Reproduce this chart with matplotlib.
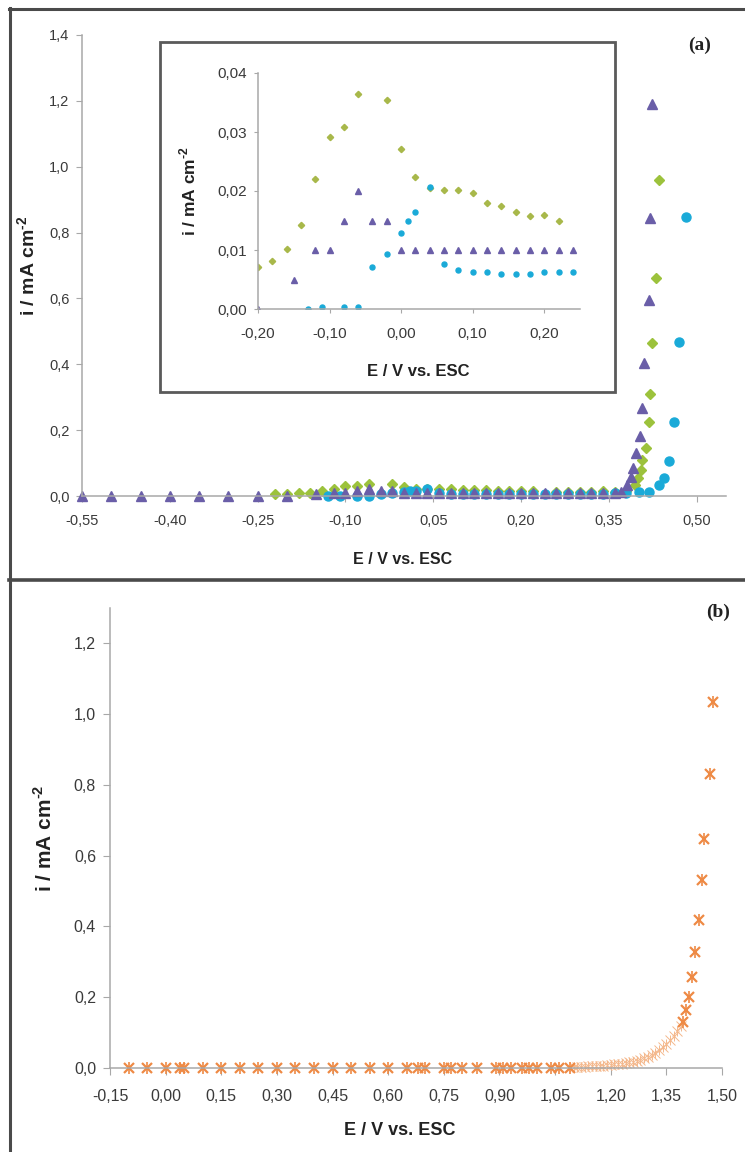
import matplotlib
matplotlib.use("Agg")
import matplotlib.pyplot as plt
from matplotlib.lines import Line2D
from matplotlib.patches import Rectangle

plt.rcParams['font.family'] = ['Liberation Sans', 'DejaVu Sans']
plt.rcParams['mathtext.fontset'] = 'custom'
plt.rcParams['mathtext.rm'] = 'Liberation Sans:bold'
plt.rcParams['mathtext.bf'] = 'Liberation Sans:bold'

# ---- panel (a) : three series ----
tri_E = [-0.55, -0.50, -0.45, -0.40, -0.35, -0.30, -0.25, -0.20, -0.15, -0.12, -0.10, -0.08, -0.06, -0.04, -0.02,
         0.00, 0.02, 0.04, 0.06, 0.08, 0.10, 0.12, 0.14, 0.16, 0.18, 0.20, 0.22, 0.24, 0.26, 0.28, 0.30, 0.32,
         0.34, 0.36, 0.37,
         0.381, 0.387, 0.391, 0.397, 0.403, 0.407, 0.410, 0.418, 0.420, 0.424]
tri_i = [0, 0, 0, 0, 0, 0, 0, 0, 0.005, 0.010, 0.010, 0.015, 0.020, 0.015, 0.015,
         0.010, 0.010, 0.010, 0.010, 0.010, 0.010, 0.010, 0.010, 0.010, 0.010, 0.010, 0.010, 0.010, 0.010,
         0.010, 0.010, 0.010, 0.010, 0.010, 0.012,
         0.033, 0.059, 0.084, 0.130, 0.182, 0.266, 0.405, 0.595, 0.845, 1.19]

dia_E = [-0.22, -0.20, -0.18, -0.16, -0.14, -0.12, -0.10, -0.08, -0.06, -0.02, 0.00, 0.02, 0.04, 0.06, 0.08,
         0.10, 0.12, 0.14, 0.16, 0.18, 0.20, 0.22,
         0.26, 0.28, 0.30, 0.32, 0.34, 0.36, 0.38,
         0.395, 0.400, 0.404, 0.407, 0.413, 0.418, 0.420, 0.424, 0.431, 0.435]
dia_i = [0.005, 0.0072, 0.0081, 0.0102, 0.0142, 0.0220, 0.0292, 0.0308, 0.0364, 0.0355, 0.0271, 0.0224, 0.0205,
         0.0201, 0.0201, 0.0196, 0.0180, 0.0175, 0.0165, 0.0158, 0.0159, 0.0149,
         0.011, 0.011, 0.011, 0.011, 0.014, 0.012, 0.016,
         0.033, 0.054, 0.079, 0.109, 0.147, 0.226, 0.309, 0.464, 0.663, 0.96]

cir_E = [-0.13, -0.11, -0.08, -0.06, -0.04, -0.02, 0.00, 0.01, 0.02, 0.04, 0.06, 0.08, 0.10, 0.12, 0.14, 0.16,
         0.18, 0.20, 0.22, 0.24,
         0.26, 0.28, 0.30, 0.32, 0.34, 0.36, 0.38,
         0.401, 0.418, 0.435, 0.444, 0.452, 0.462, 0.470, 0.481]
cir_i = [0.0, 0.0004, 0.0004, 0.0004, 0.0072, 0.0093, 0.0128, 0.0149, 0.0165, 0.0206, 0.0077, 0.0066, 0.0062,
         0.0062, 0.0060, 0.0060, 0.0060, 0.0062, 0.0062, 0.0062,
         0.006, 0.006, 0.006, 0.006, 0.007, 0.008, 0.010,
         0.012, 0.013, 0.033, 0.056, 0.106, 0.224, 0.469, 0.848]

a_xticks = [-0.55, -0.40, -0.25, -0.10, 0.05, 0.20, 0.35, 0.50]
a_yticks = [0.0, 0.2, 0.4, 0.6, 0.8, 1.0, 1.2, 1.4]
ins_xticks = [-0.20, -0.10, 0.00, 0.10, 0.20]
ins_yticks = [0.00, 0.01, 0.02, 0.03, 0.04]

# ---- panel (b) ----
b_E = [-0.10, -0.05, 0.00, 0.04, 0.05, 0.10, 0.15, 0.20, 0.25, 0.30, 0.35, 0.40, 0.45, 0.50, 0.55, 0.60,
       0.65, 0.68, 0.70, 0.75, 0.77, 0.80, 0.84, 0.89, 0.91, 0.93, 0.96, 0.98, 1.00, 1.04, 1.06, 1.09,
       1.395, 1.403, 1.410, 1.418, 1.426, 1.437, 1.445, 1.452, 1.467, 1.476]
b_i = [0.001] * 32 + [0.130, 0.165, 0.200, 0.257, 0.328, 0.418, 0.531, 0.648, 0.830, 1.035]
# dense part of the scan (small faint markers)
bd_E = [1.10, 1.11, 1.12, 1.13, 1.14, 1.15, 1.16, 1.17, 1.18, 1.19, 1.20, 1.21, 1.22, 1.23, 1.24, 1.25,
        1.26, 1.27, 1.28, 1.29, 1.30, 1.31, 1.32, 1.33, 1.34, 1.35, 1.36, 1.37, 1.38, 1.39]
bd_i = [0.003, 0.003, 0.004, 0.004, 0.005, 0.005, 0.006, 0.006, 0.007, 0.008, 0.009, 0.010, 0.011, 0.012,
        0.014, 0.016, 0.018, 0.021, 0.024, 0.028, 0.032, 0.037, 0.043, 0.050, 0.058, 0.067, 0.078, 0.090,
        0.104, 0.118]
b_xticks = [-0.15, 0.00, 0.15, 0.30, 0.45, 0.60, 0.75, 0.90, 1.05, 1.20, 1.35, 1.50]
b_yticks = [0.0, 0.2, 0.4, 0.6, 0.8, 1.0, 1.2]

PURPLE = '#6A5EA8'
GREEN = '#9CC23C'
CYAN = '#1AAAD8'
ORANGE = '#EE8A45'
AXCOL = '#A8A8A8'
TXT = '#3A3A3A'
YLAB = 'i / mA cm$^{\\text{-2}}$'


def comma(vals, fmt):
    return [fmt.format(v).replace('.', ',') for v in vals]


def style(ax, fs, pad_x, pad_y, tl=4):
    for s in ['top', 'right']:
        ax.spines[s].set_visible(False)
    for s in ['left', 'bottom']:
        ax.spines[s].set_color(AXCOL)
        ax.spines[s].set_linewidth(1.1)
    ax.tick_params(axis='x', direction='out', length=tl, color=AXCOL, labelsize=fs, labelcolor=TXT, pad=pad_x)
    ax.tick_params(axis='y', direction='out', length=tl, color=AXCOL, labelsize=fs, labelcolor=TXT, pad=pad_y)
    ax.set_facecolor('none')


W, H = 745, 1152
fig = plt.figure(figsize=(W / 100, H / 100), dpi=100)


def fx(px):
    return px / W


def fy(py):
    return 1 - py / H


# panel frame lines
fig.add_artist(Line2D([fx(10), fx(10)], [0, fy(8)], color='#4a4a4a', lw=2.2))
fig.add_artist(Line2D([fx(9), 1], [fy(9), fy(9)], color='#4a4a4a', lw=2.2))
fig.add_artist(Line2D([fx(9), 1], [fy(580), fy(580)], color='#4a4a4a', lw=2.6))

# ---------- (a) main ----------
ax = fig.add_axes([fx(82), fy(496), fx(726) - fx(82), fy(35) - fy(496)])
ax.set_zorder(1)
ax.plot(dia_E, dia_i, ls='none', marker='D', ms=5.5, color=GREEN, mec=GREEN, clip_on=False)
ax.plot(cir_E, cir_i, ls='none', marker='o', ms=6.5, color=CYAN, mec=CYAN, clip_on=False)
ax.plot(tri_E, tri_i, ls='none', marker='^', ms=7.5, color=PURPLE, mec=PURPLE, clip_on=False)
ax.set_xlim(-0.55, 0.55)
ax.set_ylim(0, 1.4)
ax.set_xticks(a_xticks)
ax.set_xticklabels(comma(a_xticks, '{:.2f}'))
ax.set_yticks(a_yticks)
ax.set_yticklabels(comma(a_yticks, '{:.1f}'))
style(ax, 10.5, 9, 5)
ax.set_xlabel('E / V vs. ESC', fontsize=11.5, fontweight='bold', color='#222222')
ax.xaxis.set_label_coords(0.497, -0.122)
ax.set_ylabel(YLAB, fontsize=14, fontweight='bold', color='#222222')
ax.yaxis.set_label_coords(-0.066, 0.5)
fig.text(fx(700), fy(45), '(a)', family='Liberation Serif', fontsize=14, fontweight='bold',
         ha='center', va='center', color='#222222')

# ---------- inset ----------
box = Rectangle((fx(160), fy(392)), fx(615) - fx(160), fy(42) - fy(392), transform=fig.transFigure,
                facecolor='white', edgecolor='#5a5a5a', lw=2.0, zorder=2)
fig.add_artist(box)
axi = fig.add_axes([fx(258), fy(309), fx(580) - fx(258), fy(73) - fy(309)])
axi.set_zorder(3)
axi.plot(dia_E, dia_i, ls='none', marker='D', ms=3.2, color='#A8B84A', mec='#A8B84A')
axi.plot(tri_E, tri_i, ls='none', marker='^', ms=4.2, color=PURPLE, mec=PURPLE)
axi.plot(cir_E, cir_i, ls='none', marker='o', ms=3.6, color=CYAN, mec=CYAN)
axi.set_xlim(-0.20, 0.25)
axi.set_ylim(0, 0.04)
axi.set_xticks(ins_xticks)
axi.set_xticklabels(comma(ins_xticks, '{:.2f}'))
axi.set_yticks(ins_yticks)
axi.set_yticklabels(comma(ins_yticks, '{:.2f}'))
style(axi, 11, 10, 5, tl=3)
axi.set_xlabel('E / V vs. ESC', fontsize=12, fontweight='bold', color='#222222')
axi.xaxis.set_label_coords(0.497, -0.232)
axi.set_ylabel(YLAB, fontsize=12.5, fontweight='bold', color='#222222')
axi.yaxis.set_label_coords(-0.185, 0.5)

# ---------- (b) ----------
bx = fig.add_axes([fx(110), fy(1068), fx(722) - fx(110), fy(608) - fy(1068)])
bx.plot(bd_E, bd_i, ls='none', marker='x', ms=7, mew=0.7, color='#F4B88C', clip_on=False)
bx.plot(bd_E, bd_i, ls='none', marker='|', ms=7, mew=0.7, color='#F4B88C', clip_on=False)
bx.plot(b_E, b_i, ls='none', marker='x', ms=7.5, mew=1.6, color=ORANGE, clip_on=False)
bx.plot(b_E, b_i, ls='none', marker='|', ms=8, mew=1.2, color=ORANGE, clip_on=False)
bx.set_xlim(-0.15, 1.50)
bx.set_ylim(0, 1.3)
bx.set_xticks(b_xticks)
bx.set_xticklabels(comma(b_xticks, '{:.2f}'))
bx.set_yticks(b_yticks)
bx.set_yticklabels(comma(b_yticks, '{:.1f}'))
style(bx, 11.5, 10, 5, tl=5)
bx.set_xlabel('E / V vs. ESC', fontsize=13, fontweight='bold', color='#222222')
bx.xaxis.set_label_coords(0.474, -0.118)
bx.set_ylabel(YLAB, fontsize=15, fontweight='bold', color='#222222')
bx.yaxis.set_label_coords(-0.088, 0.5)
fig.text(fx(718), fy(612), '(b)', family='Liberation Serif', fontsize=14, fontweight='bold',
         ha='center', va='center', color='#222222')

fig.savefig('out.png', dpi=100)
